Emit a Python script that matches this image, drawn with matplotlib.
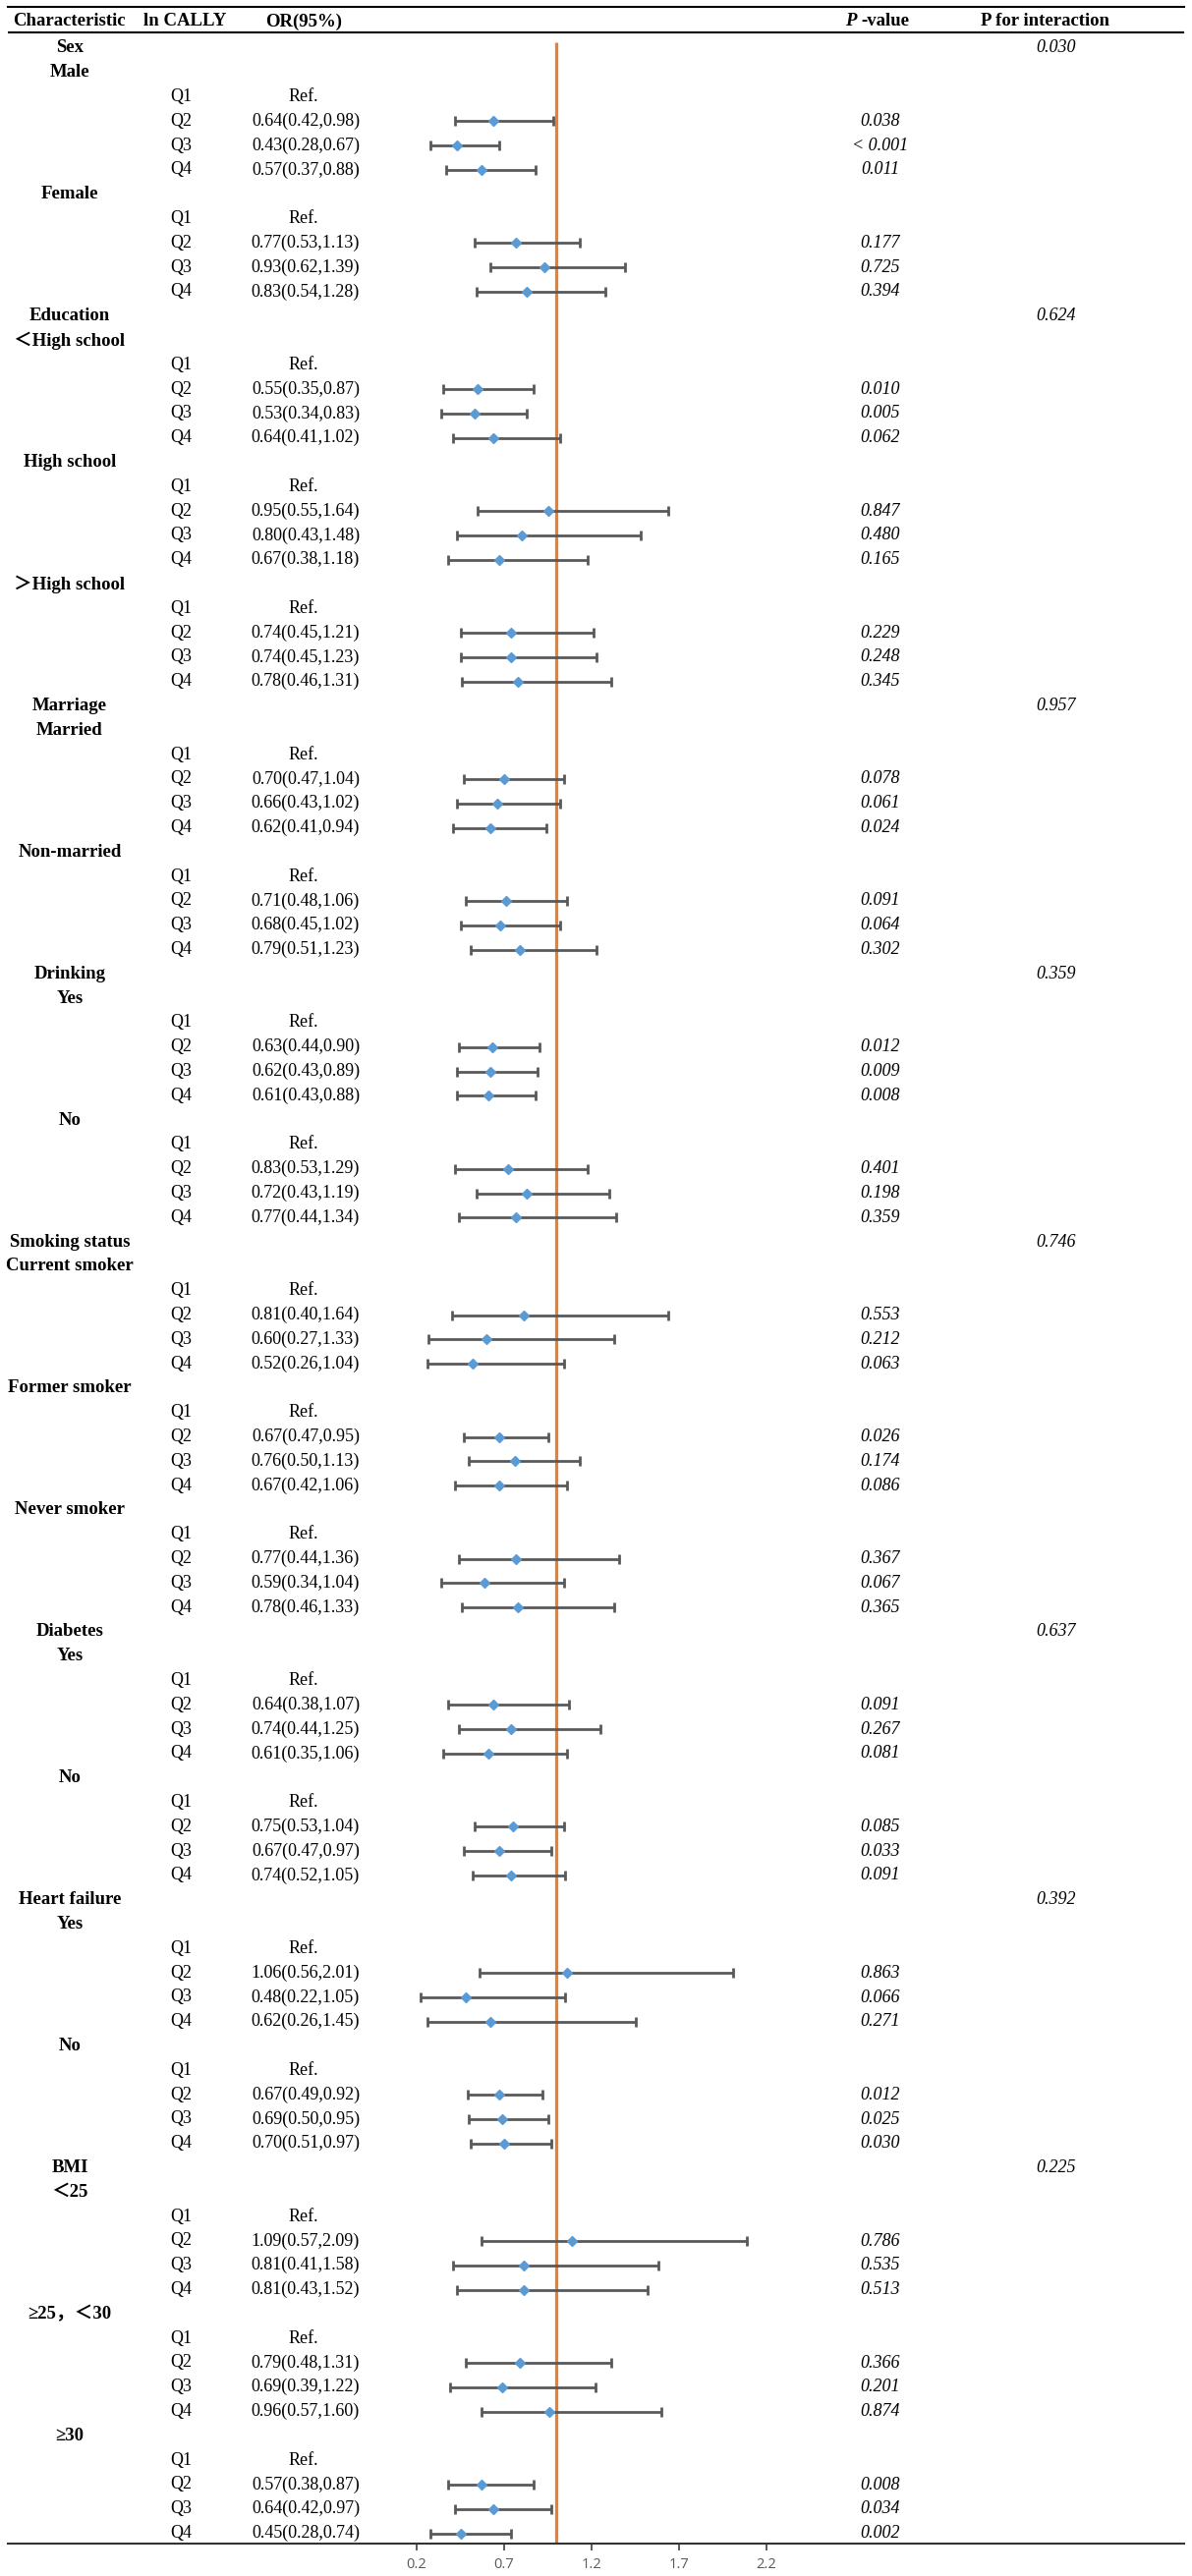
import matplotlib
matplotlib.use("Agg")
from matplotlib import pyplot as plt
import numpy as np

groups = ["Sex", "Education", "Marriage", "Drinking", "Smoking status",
          "Diabetes", "Heart failure", "BMI"]
p_interaction = ["0.030", "0.624", "0.957", "0.359", "0.746", "0.637", "0.392", "0.225"]
group_sizes = [2, 3, 2, 2, 3, 2, 2, 3]

subgroups = ["Male", "Female",
             "＜High school", "High school", "＞High school",
             "Married", "Non-married",
             "Yes", "No",
             "Current smoker", "Former smoker", "Never smoker",
             "Yes", "No",
             "Yes", "No",
             "＜25", "≥25，＜30", "≥30"]

quartiles = ["Q1", "Q2", "Q3", "Q4"]

# table text, Q2..Q4 of each subgroup
or_text = [
    ["0.64(0.42,0.98)", "0.43(0.28,0.67)", "0.57(0.37,0.88)"],
    ["0.77(0.53,1.13)", "0.93(0.62,1.39)", "0.83(0.54,1.28)"],
    ["0.55(0.35,0.87)", "0.53(0.34,0.83)", "0.64(0.41,1.02)"],
    ["0.95(0.55,1.64)", "0.80(0.43,1.48)", "0.67(0.38,1.18)"],
    ["0.74(0.45,1.21)", "0.74(0.45,1.23)", "0.78(0.46,1.31)"],
    ["0.70(0.47,1.04)", "0.66(0.43,1.02)", "0.62(0.41,0.94)"],
    ["0.71(0.48,1.06)", "0.68(0.45,1.02)", "0.79(0.51,1.23)"],
    ["0.63(0.44,0.90)", "0.62(0.43,0.89)", "0.61(0.43,0.88)"],
    ["0.83(0.53,1.29)", "0.72(0.43,1.19)", "0.77(0.44,1.34)"],
    ["0.81(0.40,1.64)", "0.60(0.27,1.33)", "0.52(0.26,1.04)"],
    ["0.67(0.47,0.95)", "0.76(0.50,1.13)", "0.67(0.42,1.06)"],
    ["0.77(0.44,1.36)", "0.59(0.34,1.04)", "0.78(0.46,1.33)"],
    ["0.64(0.38,1.07)", "0.74(0.44,1.25)", "0.61(0.35,1.06)"],
    ["0.75(0.53,1.04)", "0.67(0.47,0.97)", "0.74(0.52,1.05)"],
    ["1.06(0.56,2.01)", "0.48(0.22,1.05)", "0.62(0.26,1.45)"],
    ["0.67(0.49,0.92)", "0.69(0.50,0.95)", "0.70(0.51,0.97)"],
    ["1.09(0.57,2.09)", "0.81(0.41,1.58)", "0.81(0.43,1.52)"],
    ["0.79(0.48,1.31)", "0.69(0.39,1.22)", "0.96(0.57,1.60)"],
    ["0.57(0.38,0.87)", "0.64(0.42,0.97)", "0.45(0.28,0.74)"],
]

p_text = [
    ["0.038", "< 0.001", "0.011"],
    ["0.177", "0.725", "0.394"],
    ["0.010", "0.005", "0.062"],
    ["0.847", "0.480", "0.165"],
    ["0.229", "0.248", "0.345"],
    ["0.078", "0.061", "0.024"],
    ["0.091", "0.064", "0.302"],
    ["0.012", "0.009", "0.008"],
    ["0.401", "0.198", "0.359"],
    ["0.553", "0.212", "0.063"],
    ["0.026", "0.174", "0.086"],
    ["0.367", "0.067", "0.365"],
    ["0.091", "0.267", "0.081"],
    ["0.085", "0.033", "0.091"],
    ["0.863", "0.066", "0.271"],
    ["0.012", "0.025", "0.030"],
    ["0.786", "0.535", "0.513"],
    ["0.366", "0.201", "0.874"],
    ["0.008", "0.034", "0.002"],
]

# values as plotted (drinking "No" Q2/Q3 are drawn swapped in the original)
or_val = [
    [0.64, 0.43, 0.57], [0.77, 0.93, 0.83],
    [0.55, 0.53, 0.64], [0.95, 0.80, 0.67], [0.74, 0.74, 0.78],
    [0.70, 0.66, 0.62], [0.71, 0.68, 0.79],
    [0.63, 0.62, 0.61], [0.72, 0.83, 0.77],
    [0.81, 0.60, 0.52], [0.67, 0.76, 0.67], [0.77, 0.59, 0.78],
    [0.64, 0.74, 0.61], [0.75, 0.67, 0.74],
    [1.06, 0.48, 0.62], [0.67, 0.69, 0.70],
    [1.09, 0.81, 0.81], [0.79, 0.69, 0.96], [0.57, 0.64, 0.45],
]
lo_val = [
    [0.42, 0.28, 0.37], [0.53, 0.62, 0.54],
    [0.35, 0.34, 0.41], [0.55, 0.43, 0.38], [0.45, 0.45, 0.46],
    [0.47, 0.43, 0.41], [0.48, 0.45, 0.51],
    [0.44, 0.43, 0.43], [0.42, 0.54, 0.44],
    [0.40, 0.27, 0.26], [0.47, 0.50, 0.42], [0.44, 0.34, 0.46],
    [0.38, 0.44, 0.35], [0.53, 0.47, 0.52],
    [0.56, 0.22, 0.26], [0.49, 0.50, 0.51],
    [0.57, 0.41, 0.43], [0.48, 0.39, 0.57], [0.38, 0.42, 0.28],
]
hi_val = [
    [0.98, 0.67, 0.88], [1.13, 1.39, 1.28],
    [0.87, 0.83, 1.02], [1.64, 1.48, 1.18], [1.21, 1.23, 1.31],
    [1.04, 1.02, 0.94], [1.06, 1.02, 1.23],
    [0.90, 0.89, 0.88], [1.18, 1.30, 1.34],
    [1.64, 1.33, 1.04], [0.95, 1.13, 1.06], [1.36, 1.04, 1.33],
    [1.07, 1.25, 1.06], [1.04, 0.97, 1.05],
    [2.01, 1.05, 1.45], [0.92, 0.95, 0.97],
    [2.09, 1.58, 1.52], [1.31, 1.22, 1.60], [0.87, 0.97, 0.74],
]

W, H = 1213, 2622
fig = plt.figure(figsize=(W / 100, H / 100), dpi=100)

# axes spans pixel x 8..1205, y 7..2589 ; rows at 49 + 24.8*i
ax = fig.add_axes([8 / W, (H - 2589) / H, 1197 / W, (2589 - 7) / H])
def px(p):
    return 0.2 + (p - 424) / 178.0
ax.set_xlim(px(8), px(1205))
row_h = 24.8
ax.set_ylim((2589 - 49) / row_h, (7 - 49) / row_h)

serif = ["Liberation Serif", "Noto Sans CJK SC"]
fs = 13
fs_b = 13.5

def label(x, y, s, **kw):
    kw.setdefault("family", serif)
    kw.setdefault("fontsize", fs)
    kw.setdefault("va", "center")
    ax.text(px(x), y, s, **kw)

# header
hy = (22 - 49) / row_h
label(13, hy, "Characteristic", fontweight="bold", fontsize=fs_b)
label(188, hy, "ln CALLY", ha="center", fontweight="bold", fontsize=fs_b)
label(309, hy, "OR(95%)", ha="center", fontweight="bold", fontsize=fs_b)
label(876, hy, "P ", ha="right", fontweight="bold", style="italic", fontsize=fs_b)
label(876, hy, "-value", ha="left", fontweight="bold", fontsize=fs_b)
label(1064, hy, "P for interaction", ha="center", fontweight="bold", fontsize=fs_b)
ax.axhline((33 - 49) / row_h, color="black", lw=1.5)

ys, xs, los, his = [], [], [], []
row = 0
k = 0
for g, name in enumerate(groups):
    label(71, row, name, ha="center", fontweight="bold", fontsize=fs_b)
    label(1075, row, p_interaction[g], ha="center", style="italic")
    row += 1
    for s in range(group_sizes[g]):
        label(71, row, subgroups[k], ha="center", fontweight="bold", fontsize=fs_b)
        row += 1
        for q in range(4):
            label(173, row, quartiles[q], ha="left")
            if q == 0:
                label(309, row, "Ref.", ha="center")
            else:
                label(311, row, or_text[k][q - 1], ha="center")
                label(896, row, p_text[k][q - 1], ha="center", style="italic")
                ys.append(row)
                xs.append(or_val[k][q - 1])
                los.append(lo_val[k][q - 1])
                his.append(hi_val[k][q - 1])
            row += 1
        k += 1

xs = np.array(xs)
los = np.array(los)
his = np.array(his)
ys = np.array(ys)

ax.vlines(1.0, (43 - 49) / row_h, (2589 - 49) / row_h, color="#ED7D31", lw=2.3, zorder=2)
ax.errorbar(xs, ys, xerr=[xs - los, his - xs], fmt="none", ecolor="#595959",
            elinewidth=2, capsize=3.5, capthick=2, zorder=3)
ax.plot(xs, ys, "D", color="#5B9BD5", markersize=5, zorder=4, lw=0)

ax.set_xticks([0.2, 0.7, 1.2, 1.7, 2.2])
ax.set_xticklabels(["0.2", "0.7", "1.2", "1.7", "2.2"])
ax.tick_params(axis="x", direction="out", length=5, width=1.2, color="#404040",
               labelcolor="#595959", labelsize=10.5, pad=5, labelfontfamily="Open Sans")
ax.set_yticks([])
for side in ["left", "right"]:
    ax.spines[side].set_visible(False)
ax.spines["top"].set_linewidth(1.5)
ax.spines["bottom"].set_linewidth(1.5)
ax.spines["bottom"].set_color("#333333")

fig.savefig("out.png", dpi=100)
